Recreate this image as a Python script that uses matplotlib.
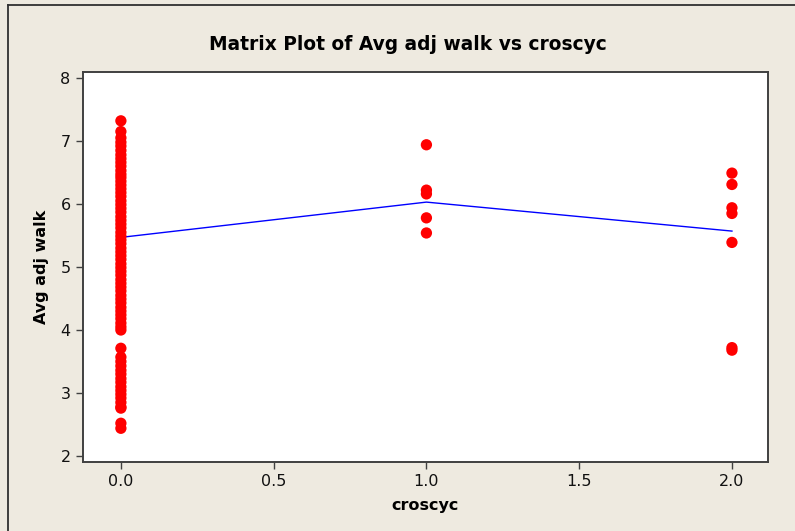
import matplotlib
matplotlib.use("Agg")
import matplotlib.pyplot as plt
from matplotlib.lines import Line2D

# data
x_zero = [0.0] * 69
y_zero = [7.32, 7.15, 7.05, 6.98, 6.92, 6.85, 6.78, 6.72, 6.66, 6.60,
          6.53, 6.47, 6.42, 6.36, 6.30, 6.24, 6.18, 6.12, 6.05, 5.99,
          5.93, 5.87, 5.80, 5.74, 5.68, 5.62, 5.55, 5.49, 5.43, 5.37,
          5.30, 5.24, 5.18, 5.12, 5.05, 4.99, 4.93, 4.87, 4.80, 4.74,
          4.68, 4.62, 4.55, 4.49, 4.43, 4.36, 4.30, 4.24, 4.18, 4.11,
          4.05, 4.00, 3.71, 3.57, 3.50, 3.43, 3.36, 3.30, 3.23, 3.17,
          3.10, 3.04, 2.98, 2.92, 2.85, 2.78, 2.76, 2.52, 2.44]
x_one = [1.0] * 5
y_one = [6.94, 6.22, 6.16, 5.78, 5.54]
x_two = [2.0] * 7
y_two = [6.49, 6.31, 5.94, 5.85, 5.39, 3.72, 3.68]

mean_x = [0.0, 1.0, 2.0]
mean_y = [5.47, 6.03, 5.57]

xticks = [0.0, 0.5, 1.0, 1.5, 2.0]
xtick_labels = ["0.0", "0.5", "1.0", "1.5", "2.0"]
yticks = [2, 3, 4, 5, 6, 7, 8]

bg = "#EEEAE0"
fig = plt.figure(figsize=(7.95, 5.31), dpi=100, facecolor=bg)

# outer frame (left and top edges visible)
fig.add_artist(Line2D([8 / 795, 8 / 795], [0, 1 - 5 / 531], transform=fig.transFigure,
                      color="#303030", lw=1.3))
fig.add_artist(Line2D([8 / 795, 1], [1 - 5 / 531, 1 - 5 / 531], transform=fig.transFigure,
                      color="#303030", lw=1.3))

ax = fig.add_axes([83 / 795, 1 - 462 / 531, (768 - 83) / 795, (462 - 72) / 531])
ax.set_facecolor("white")

ax.plot(mean_x, mean_y, color="#0000FF", lw=1.0, zorder=2)
for xs, ys in [(x_zero, y_zero), (x_one, y_one), (x_two, y_two)]:
    ax.scatter(xs, ys, s=66, color="#FF0000", edgecolors="none", zorder=3)

ax.set_xlim(-0.124, 2.118)
ax.set_ylim(1.905, 8.095)
ax.set_xticks(xticks)
ax.set_xticklabels(xtick_labels)
ax.set_yticks(yticks)

for s in ax.spines.values():
    s.set_color("#404040")
    s.set_linewidth(1.4)
ax.tick_params(direction="out", length=5, width=1.0, color="#404040",
               labelsize=11.5, labelcolor="#111111", pad=4)

ax.set_xlabel("croscyc", fontsize=11.5, fontweight="bold", labelpad=6)
ax.set_ylabel("Avg adj walk", fontsize=11.5, fontweight="bold", labelpad=8)
fig.text(408 / 795, 1 - 44 / 531, "Matrix Plot of Avg adj walk vs croscyc",
         ha="center", va="center", fontsize=13.4, fontweight="bold")

fig.savefig("out.png", dpi=100, facecolor=bg)
